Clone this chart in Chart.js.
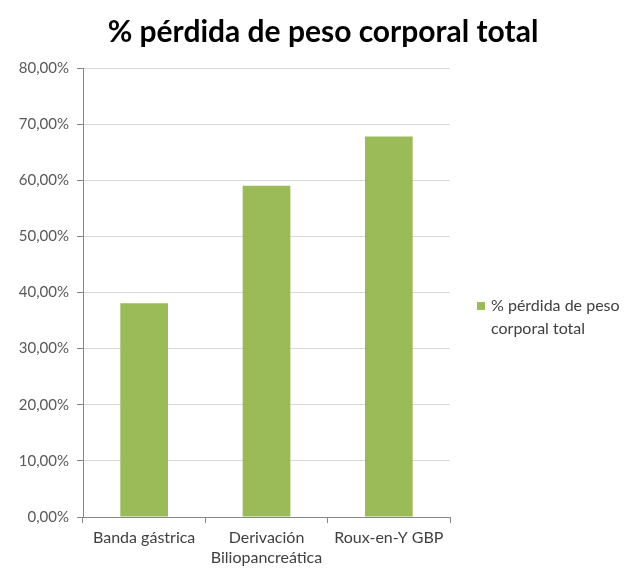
<!DOCTYPE html>
<html>
<head>
<meta charset="utf-8">
<script src="https://cdn.jsdelivr.net/npm/chart.js@4/dist/chart.umd.min.js"></script>
<style>
  html, body { margin: 0; padding: 0; background: #fff; }
  #wrap { width: 624px; height: 570px; position: relative; }
</style>
</head>
<body>
<div id="wrap"><canvas id="lossChart"></canvas></div>
<script>
// data
const categories = [['Banda gástrica'], ['Derivación', 'Biliopancreática'], ['Roux-en-Y GBP']];
const lossValues = [38.1, 59.0, 67.8];
const seriesName = '% pérdida de peso corporal total';
const legendLines = ['% pérdida de peso', 'corporal total'];
const barColor = '#9bbb59';
const fontFamily = 'Lato, "Open Sans", sans-serif';

// title over the whole canvas and a legend that wraps on two lines, as in the original
const sideDecor = {
    id: 'sideDecor',
    afterDraw(chart) {
        const c = chart.ctx;
        c.save();
        c.fillStyle = '#000';
        c.font = 'bold 30px ' + fontFamily;
        c.textAlign = 'center';
        c.textBaseline = 'middle';
        c.fillText(seriesName, 323, 32);

        const x = 477, y = 302;
        c.fillStyle = barColor;
        c.fillRect(x, y, 8, 8);
        c.fillStyle = '#404040';
        c.font = '16px ' + fontFamily;
        c.textAlign = 'left';
        c.fillText(legendLines[0], x + 14, y + 4);
        c.fillText(legendLines[1], x + 14, y + 27);
        c.restore();
    }
};

const ctx = document.getElementById('lossChart').getContext('2d');
const lossChart = new Chart(ctx, {
    type: 'bar',
    data: {
        labels: categories,
        datasets: [{
            label: seriesName,
            data: lossValues,
            backgroundColor: barColor,
            borderWidth: 0,
            categoryPercentage: 1,
            barPercentage: 0.39
        }]
    },
    options: {
        responsive: true,
        maintainAspectRatio: false,
        animation: false,
        layout: { padding: { left: 0, right: 174, top: 68, bottom: 0 } },
        plugins: {
            legend: { display: false },
            tooltip: { enabled: false },
            title: { display: false }
        },
        scales: {
            y: {
                min: 0,
                max: 80,
                ticks: {
                    stepSize: 10,
                    color: '#595959',
                    font: { family: fontFamily, size: 15 },
                    padding: 8,
                    callback: v => v.toFixed(2).replace('.', ',') + '%'
                },
                grid: { color: '#d9d9d9', tickLength: 6, tickColor: '#868686' },
                border: { color: '#868686' },
                afterFit: s => { s.width = 83; }
            },
            x: {
                ticks: {
                    color: '#404040',
                    font: { family: fontFamily, size: 16, lineHeight: 1.3 },
                    padding: 4,
                    maxRotation: 0
                },
                grid: { drawOnChartArea: false, tickLength: 6, color: '#868686' },
                border: { color: '#868686' },
                afterFit: s => { s.height = 53; }
            }
        }
    },
    plugins: [sideDecor]
});
</script>
</body>
</html>
